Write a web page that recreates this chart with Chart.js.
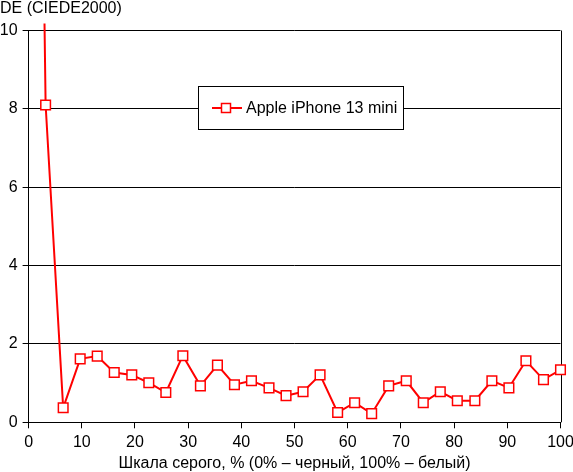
<!DOCTYPE html>
<html>
<head>
<meta charset="utf-8">
<script src="https://cdn.jsdelivr.net/npm/chart.js@4"></script>
<style>
  html, body { margin: 0; padding: 0; background: #fff; }
  canvas { display: block; }
</style>
</head>
<body>
<canvas id="chart" width="573" height="472"></canvas>
<script>
// Gray level, % (0% black, 100% white)
const grayLevels = [0, 3.2, 6.5, 9.7, 12.9, 16.1, 19.4, 22.6, 25.8, 29.0, 32.3, 35.5, 38.7, 41.9, 45.2, 48.4,
                    51.6, 54.8, 58.1, 61.3, 64.5, 67.7, 71.0, 74.2, 77.4, 80.6, 83.9, 87.1, 90.3, 93.5, 96.8, 100];
// DE (CIEDE2000), first value is off the top of the chart
const deltaE = [40, 8.1, 0.37, 1.62, 1.69, 1.27, 1.21, 1.01, 0.76, 1.70, 0.93, 1.46, 0.96, 1.06, 0.88, 0.68,
                0.78, 1.21, 0.25, 0.50, 0.22, 0.93, 1.06, 0.50, 0.78, 0.55, 0.55, 1.06, 0.88, 1.57, 1.09, 1.34];
const xTicks = [0, 10, 20, 30, 40, 50, 60, 70, 80, 90, 100];
const yTicks = [0, 2, 4, 6, 8, 10];

const SERIES_NAME = 'Apple iPhone 13 mini';
const Y_TITLE = 'DE (CIEDE2000)';
const X_TITLE = 'Шкала серого, % (0% – черный, 100% – белый)';

const FONT = '"Liberation Sans", Arial, sans-serif';
const RED = '#ff0000';

// y title, right border and the boxed legend inside the plot
const decorations = {
  id: 'decorations',
  beforeDatasetsDraw(chart) {
    const { ctx, chartArea: a } = chart;
    ctx.save();
    ctx.strokeStyle = '#000';
    ctx.lineWidth = 1;
    ctx.beginPath();
    ctx.moveTo(Math.round(a.right) + 0.5, a.top);
    ctx.lineTo(Math.round(a.right) + 0.5, a.bottom);
    ctx.stroke();

    ctx.fillStyle = '#000';
    ctx.font = '16px ' + FONT;
    ctx.textAlign = 'left';
    ctx.textBaseline = 'alphabetic';
    ctx.fillText(Y_TITLE, 0, 13);

    // legend box
    const bx = 198.5, by = 86.5, bw = 205, bh = 43;
    ctx.fillStyle = '#fff';
    ctx.fillRect(bx, by, bw, bh);
    ctx.strokeRect(bx, by, bw, bh);
    const ly = 108;
    ctx.strokeStyle = RED;
    ctx.lineWidth = 2;
    ctx.beginPath();
    ctx.moveTo(212, ly);
    ctx.lineTo(242, ly);
    ctx.stroke();
    ctx.fillStyle = '#fff';
    ctx.fillRect(221.5, ly - 4.5, 9, 9);
    ctx.lineWidth = 1.5;
    ctx.strokeRect(221.5, ly - 4.5, 9, 9);
    ctx.fillStyle = '#000';
    ctx.textBaseline = 'middle';
    ctx.fillText(SERIES_NAME, 246, ly + 1);
    ctx.restore();
  }
};

new Chart(document.getElementById('chart'), {
  type: 'scatter',
  data: {
    datasets: [{
      label: SERIES_NAME,
      data: grayLevels.map((x, i) => ({ x, y: deltaE[i] })),
      showLine: true,
      borderColor: RED,
      borderWidth: 2,
      tension: 0,
      pointStyle: 'rect',
      pointRadius: 6.8,
      pointBorderWidth: 1.5,
      pointBackgroundColor: '#fff',
      pointBorderColor: RED,
      clip: { left: 0, top: 7, right: 6, bottom: 6 },
    }],
  },
  options: {
    responsive: false,
    animation: false,
    layout: { padding: { top: 30.5, right: 12.5, bottom: 0, left: 0 } },
    plugins: {
      legend: { display: false },
      tooltip: { enabled: false },
    },
    scales: {
      x: {
        type: 'linear',
        min: 0,
        max: 100,
        afterBuildTicks: s => { s.ticks = xTicks.map(v => ({ value: v })); },
        afterFit: s => { s.height = 49.7; s.paddingLeft = 0; s.paddingRight = 0; },
        ticks: { color: '#000', font: { family: FONT, size: 16 }, padding: 5, maxRotation: 0 },
        grid: { drawOnChartArea: false, drawTicks: true, tickLength: 6, color: '#000' },
        border: { color: '#000', width: 1 },
        title: {
          display: true,
          text: X_TITLE,
          color: '#000',
          font: { family: FONT, size: 16, lineHeight: 1.2 },
          padding: { top: 0, bottom: -1.5 },
        },
      },
      y: {
        min: 0,
        max: 10,
        afterBuildTicks: s => { s.ticks = yTicks.map(v => ({ value: v })); },
        afterFit: s => { s.width = 28.6; s.paddingTop = 0; s.paddingBottom = 0; },
        ticks: { color: '#000', font: { family: FONT, size: 16 }, padding: 5 },
        grid: { color: '#000', lineWidth: 1, drawTicks: true, tickLength: 6 },
        border: { color: '#000', width: 1 },
      },
    },
  },
  plugins: [decorations],
});
</script>
</body>
</html>
